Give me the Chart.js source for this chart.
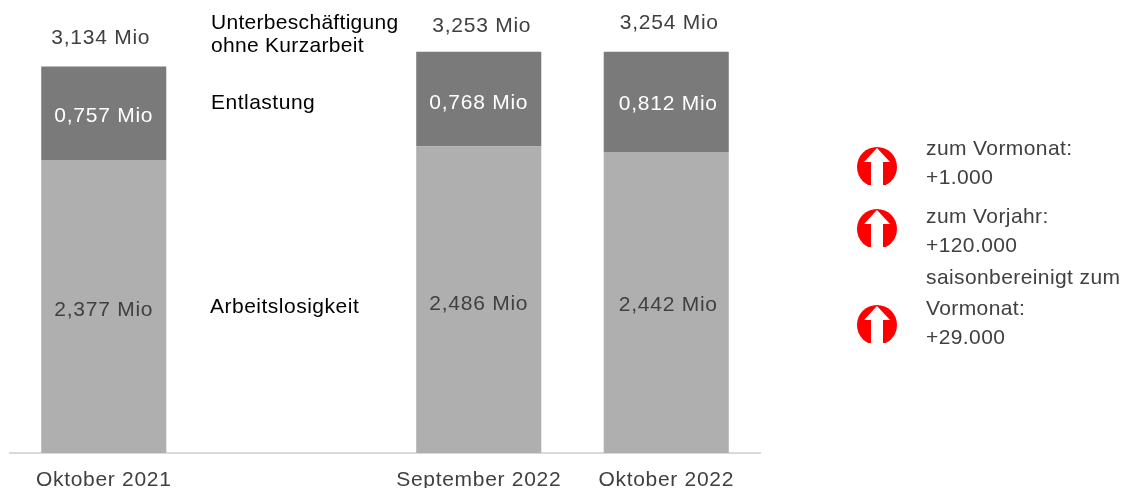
<!DOCTYPE html>
<html><head><meta charset="utf-8">
<style>html,body{margin:0;padding:0;background:#fff}#w{width:1123px;height:488px;position:relative}canvas{display:block}</style>
<script src="https://cdn.jsdelivr.net/npm/chart.js@4"></script>
</head><body><div id="w"><canvas id="c" width="1123" height="488"></canvas></div>
<script>
const categories = ["Oktober 2021", "", "September 2022", "Oktober 2022"];
const arbeitslosigkeit = [2.377, null, 2.486, 2.442];
const entlastung = [0.757, null, 0.768, 0.812];
const totals = [3.134, null, 3.253, 3.254];
const seriesNames = ["Arbeitslosigkeit", "Entlastung", "Unterbeschäftigung", "ohne Kurzarbeit"];
const changeTexts = [["zum Vormonat:", "+1.000"], ["zum Vorjahr:", "+120.000"], ["saisonbereinigt zum", "Vormonat:", "+29.000"]];

const FONT = '"Liberation Sans", Arial, sans-serif';
const fmt = v => v.toFixed(3).replace('.', ',') + ' Mio';
const lowShift = [2.5, null, 3, 1.5], midShift = [1, null, 2, 1], topGap = [30, null, 27, 30];
const labelDx = [0, null, 0, 2], totalDx = [-3, null, 3, 3];

function txt(ctx, s, x, y, size, color, align, ls) {
  ctx.font = size + 'px ' + FONT;
  ctx.fillStyle = color;
  ctx.textAlign = align || 'left';
  ctx.textBaseline = 'alphabetic';
  ctx.letterSpacing = (ls || 0) + 'px';
  ctx.fillText(s, x, y);
  ctx.letterSpacing = '0px';
}
function icon(ctx, cx, cy) {
  ctx.save();
  ctx.beginPath(); ctx.rect(cx - 21, cy - 21, 42, 39); ctx.clip();
  ctx.beginPath(); ctx.arc(cx, cy, 20, 0, Math.PI * 2); ctx.fillStyle = '#ff0000'; ctx.fill();
  ctx.beginPath();
  ctx.moveTo(cx, cy - 19); ctx.lineTo(cx + 13, cy - 5); ctx.lineTo(cx + 6, cy - 5);
  ctx.lineTo(cx + 6, cy + 19); ctx.lineTo(cx - 6, cy + 19); ctx.lineTo(cx - 6, cy - 5);
  ctx.lineTo(cx - 13, cy - 5); ctx.closePath();
  ctx.fillStyle = '#fff'; ctx.fill();
  ctx.restore();
}
const annotate = {
  id: 'annotate',
  beforeDraw(chart) { chart.ctx.letterSpacing = '0.7px'; },
  afterDatasetsDraw(chart) {
    const ctx = chart.ctx, x = chart.scales.x, y = chart.scales.y;
    ctx.save();
    categories.forEach((c, i) => {
      if (totals[i] == null) return;
      const cx = x.getPixelForValue(i);
      const yBase = y.getPixelForValue(0);
      const yMid = y.getPixelForValue(arbeitslosigkeit[i]);
      const yTop = y.getPixelForValue(arbeitslosigkeit[i] + entlastung[i]);
      txt(ctx, fmt(arbeitslosigkeit[i]), cx + labelDx[i], (yBase + yMid) / 2 + 7.5 + lowShift[i], 21, '#404040', 'center', 0.75);
      txt(ctx, fmt(entlastung[i]), cx + labelDx[i], (yMid + yTop) / 2 + 7.5 + midShift[i], 21, '#ffffff', 'center', 0.75);
      txt(ctx, fmt(totals[i]), cx + totalDx[i], yTop - topGap[i] + 7.5, 21, '#404040', 'center', 0.75);
    });
    const black = '#000000';
    txt(ctx, seriesNames[2], 211, 29, 21, black, 'left', 0.3);
    txt(ctx, seriesNames[3], 211, 52, 21, black, 'left', 0.3);
    txt(ctx, seriesNames[1], 211, 109, 21, black, 'left', 0.5);
    txt(ctx, seriesNames[0], 210, 313, 21, black, 'left', 0.5);
    const gray = '#404040', ls = 0.4;
    txt(ctx, changeTexts[0][0], 926, 155, 21, gray, 'left', ls);
    txt(ctx, changeTexts[0][1], 926, 184, 21, gray, 'left', ls);
    txt(ctx, changeTexts[1][0], 926, 223, 21, gray, 'left', ls);
    txt(ctx, changeTexts[1][1], 926, 252, 21, gray, 'left', ls);
    txt(ctx, changeTexts[2][0], 926, 284, 21, gray, 'left', ls);
    txt(ctx, changeTexts[2][1], 926, 315, 21, gray, 'left', ls);
    txt(ctx, changeTexts[2][2], 926, 344, 21, gray, 'left', ls);
    icon(ctx, 877, 167); icon(ctx, 877, 229); icon(ctx, 877, 325);
    ctx.restore();
  }
};
const canvas = document.getElementById('c');
new Chart(canvas, {
  type: 'bar',
  data: {
    labels: categories,
    datasets: [
      { label: seriesNames[0], data: arbeitslosigkeit, backgroundColor: '#afafaf', stack: 's' },
      { label: seriesNames[1], data: entlastung, backgroundColor: '#7a7a7a', stack: 's' }
    ]
  },
  options: {
    responsive: false, animation: false, devicePixelRatio: 1,
    layout: { padding: { left: 10, right: 363, top: 0, bottom: 0 } },
    plugins: { legend: { display: false }, tooltip: { enabled: false } },
    datasets: { bar: { barPercentage: 0.667, categoryPercentage: 1 } },
    scales: {
      x: {
        stacked: true,
        afterFit(scale) { scale.height = 35; },
        grid: { display: false, drawTicks: false },
        border: { color: '#d9d9d9', width: 2 },
        ticks: { color: '#404040', font: { family: FONT, size: 21 }, maxRotation: 0, autoSkip: false, padding: 15 }
      },
      y: { stacked: true, display: false, min: 0, max: 3.674 }
    }
  },
  plugins: [annotate]
});
</script></body></html>
